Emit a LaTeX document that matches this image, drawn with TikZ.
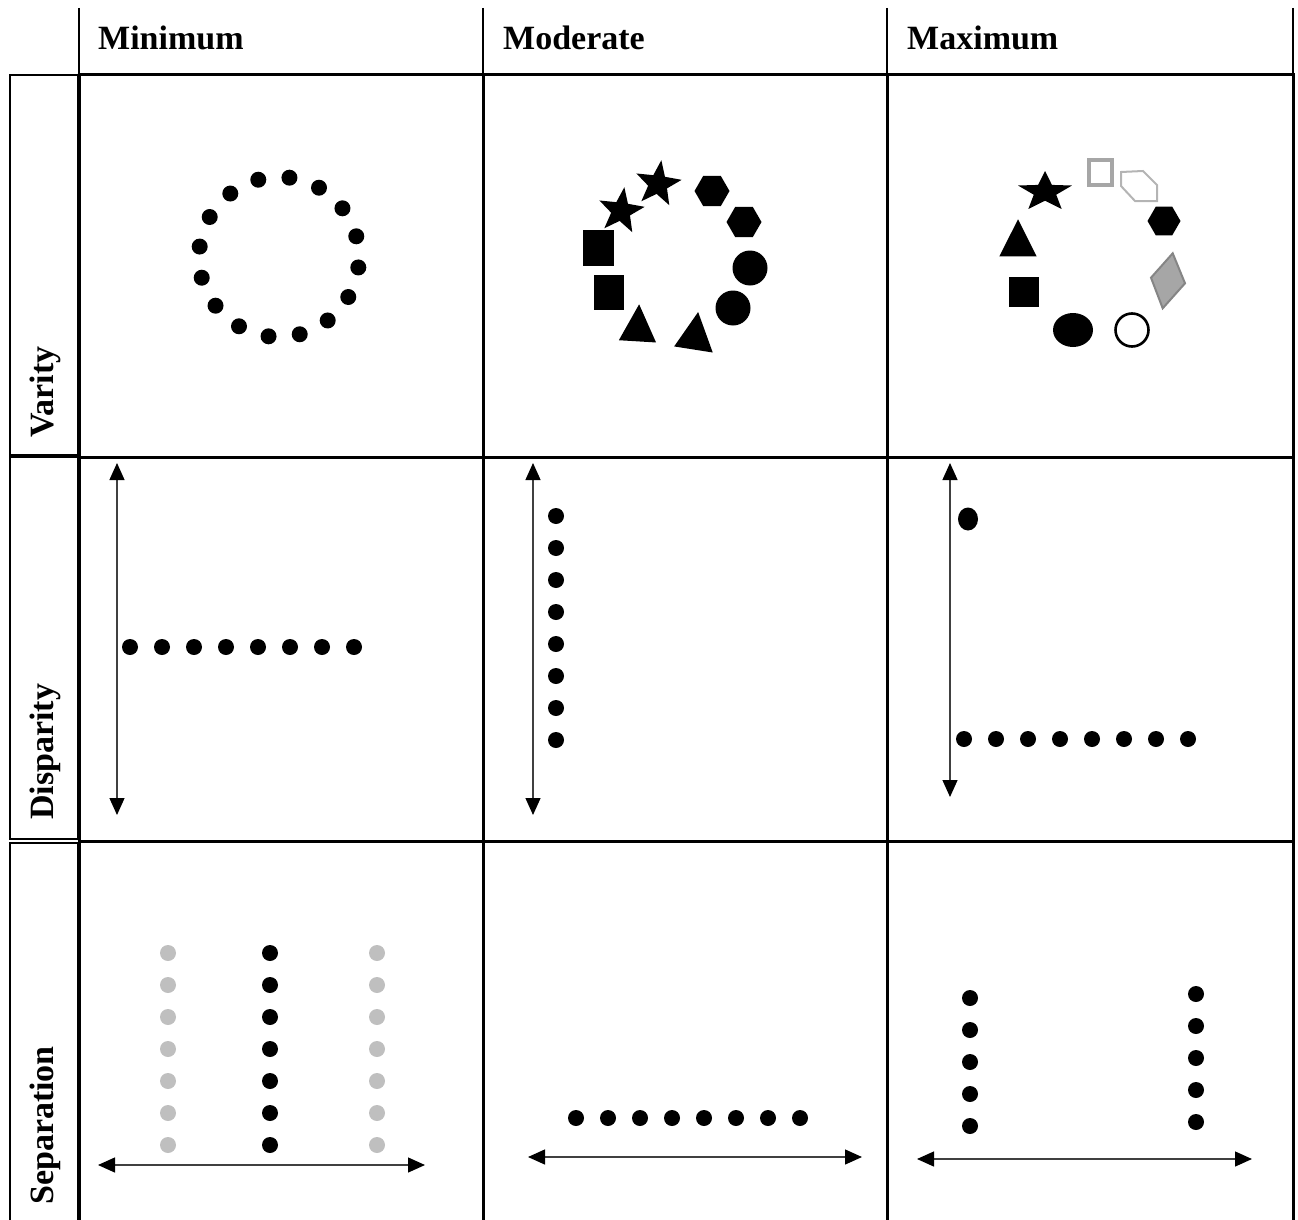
\documentclass[tikz,border=0pt]{standalone}
\usepackage{fontspec}
\setmainfont{Liberation Serif}
\usetikzlibrary{arrows.meta,shapes.geometric}
\definecolor{ink}{HTML}{000000}
\definecolor{arrowline}{HTML}{404040}
\definecolor{fadedot}{HTML}{BFBFBF}
\definecolor{shapegrey}{HTML}{A6A6A6}
\definecolor{shapeedge}{HTML}{858585}
\definecolor{outlinegrey}{HTML}{B4B4B4}
\newcommand{\dotline}[7]{% name, x, y, dx, dy, count, style
  \foreach \k in {1,...,#6}
    \node[#7] (#1\k) at ({#2+(\k-1)*#4},{#3+(\k-1)*#5}) {};
}

\begin{document}
\begin{tikzpicture}[
  x=1pt,
  y=-1pt,
  font=\bfseries\fontsize{34}{40}\selectfont,
  dot/.style={circle, fill=ink, inner sep=0pt, minimum size=16pt},
  fadeddot/.style={dot, fill=fadedot},
  solid shape/.style={fill=ink, inner sep=0pt},
  spread/.style={arrowline, line width=1.3pt,
    {Triangle[length=17pt,width=15pt,color=ink]}-{Triangle[length=17pt,width=15pt,color=ink]}},
  cellrule/.style={ink, line width=3pt},
  thinrule/.style={ink, line width=1.3pt},
  head/.style={anchor=base west, inner sep=0pt},
  rowlabel/.style={rotate=90, anchor=base west, inner sep=0pt}
]
  \useasboundingbox (0,0) rectangle (1298,1220);

  % table rules
  \foreach \gx in {79,483,887,1293}
    \draw[thinrule] (\gx,8) -- (\gx,75);
  \draw[thinrule] (10,75) -- (79,75);
  \draw[thinrule] (10,75) rectangle (78,455);
  \draw[thinrule] (10,457) rectangle (78,839);
  \draw[thinrule] (10,1220) -- (10,843) -- (78,843) -- (78,1220);
  \foreach \gy in {75,457,841}
    \draw[cellrule] (77.5,\gy) -- (1294.5,\gy);
  \foreach \gx in {79,483,887,1293}
    \draw[cellrule] (\gx,75) -- (\gx,1220);

  % headers
  \node[head] (hmin) at (98,50) {Minimum};
  \node[head] (hmod) at (503,50) {Moderate};
  \node[head] (hmax) at (907,50) {Maximum};
  \node[rowlabel] (lvar) at (53,438) {Varity};
  \node[rowlabel] (ldis) at (53,820) {Disparity};
  \node[rowlabel] (lsep) at (53,1205) {Separation};

  % varity, minimum
  \coordinate (vmin) at (279,257);
  \foreach \k in {1,...,16}
    \node[dot] (ring\k) at ([shift={({-15-22.5*\k}:80)}]vmin) {};

  % varity, moderate
  \node[solid shape, star, star points=5, star point ratio=2.4, minimum size=48pt, rotate=-8] (vstara) at (621,211) {};
  \node[solid shape, star, star points=5, star point ratio=2.4, minimum size=48pt, rotate=-8] (vstarb) at (658,184) {};
  \node[solid shape, regular polygon, regular polygon sides=6, minimum size=35pt] (vhexa) at (712,191) {};
  \node[solid shape, regular polygon, regular polygon sides=6, minimum size=35pt] (vhexb) at (744,222) {};
  \node[solid shape, circle, minimum size=35pt] (vcira) at (750,268) {};
  \node[solid shape, circle, minimum size=35pt] (vcirb) at (733,308) {};
  \node[solid shape, regular polygon, regular polygon sides=3, minimum size=43pt, yscale=1.15, rotate=-3] (vtria) at (638,329) {};
  \node[solid shape, regular polygon, regular polygon sides=3, minimum size=45pt, yscale=1.12, rotate=-8] (vtrib) at (695,337) {};
  \node[solid shape, rectangle, minimum width=31pt, minimum height=36pt] (vsqua) at (598,248) {};
  \node[solid shape, rectangle, minimum width=30pt, minimum height=35pt] (vsqub) at (609,292) {};

  % varity, maximum
  \node[solid shape, star, star points=5, star point ratio=2.4, minimum size=42pt, xscale=1.35] (xstar) at (1045,192) {};
  \node[draw=shapegrey, line width=4pt, inner sep=0pt, minimum width=23pt, minimum height=25pt] (xsqu) at (1100,172) {};
  \draw[outlinegrey, line width=2pt, line join=miter]
    (1121,172) -- (1143,171) -- (1157,185) -- (1157,201) -- (1135,201) -- (1121,186) -- cycle;
  \node[solid shape, regular polygon, regular polygon sides=6, minimum size=33pt] (xhex) at (1164,221) {};
  \draw[fill=shapegrey, draw=shapeedge, line width=2pt]
    (1172.7,253.3) -- (1185,283.3) -- (1162.7,308.3) -- (1151,277.7) -- cycle;
  \node[solid shape, regular polygon, regular polygon sides=3, minimum size=43pt, yscale=1.15] (xtri) at (1018,244) {};
  \node[solid shape, rectangle, minimum size=30pt] (xsqr) at (1024,292) {};
  \node[solid shape, ellipse, minimum width=40pt, minimum height=34pt] (xell) at (1073,330) {};
  \node[draw=ink, fill=white, circle, line width=2.6pt, inner sep=0pt, minimum size=33pt] (xcir) at (1132,330) {};

  % disparity
  \coordinate (dminTop) at (117,463);
  \coordinate (dminBot) at (117,815);
  \draw[spread] (dminTop) -- (dminBot);
  \dotline{dmin}{130}{647}{32}{0}{8}{dot}

  \coordinate (dmodTop) at (533,463);
  \coordinate (dmodBot) at (533,815);
  \draw[spread] (dmodTop) -- (dmodBot);
  \dotline{dmod}{556}{516}{0}{32}{8}{dot}

  \coordinate (dmaxTop) at (950,463);
  \coordinate (dmaxBot) at (950,797);
  \draw[spread] (dmaxTop) -- (dmaxBot);
  \node[solid shape, ellipse, minimum width=20pt, minimum height=23pt] (dlone) at (968,519) {};
  \dotline{dmax}{964}{739}{32}{0}{8}{dot}

  % separation
  \coordinate (sminL) at (98,1165);
  \coordinate (sminR) at (425,1165);
  \draw[spread] (sminL) -- (sminR);
  \dotline{smina}{168}{953}{0}{32}{7}{fadeddot}
  \dotline{sminb}{270}{953}{0}{32}{7}{dot}
  \dotline{sminc}{377}{953}{0}{32}{7}{fadeddot}

  \coordinate (smodL) at (528,1157);
  \coordinate (smodR) at (862,1157);
  \draw[spread] (smodL) -- (smodR);
  \dotline{smod}{576}{1118}{32}{0}{8}{dot}

  \coordinate (smaxL) at (917,1159);
  \coordinate (smaxR) at (1252,1159);
  \draw[spread] (smaxL) -- (smaxR);
  \dotline{smaxa}{970}{998}{0}{32}{5}{dot}
  \dotline{smaxb}{1196}{994}{0}{32}{5}{dot}
\end{tikzpicture}
\end{document}
